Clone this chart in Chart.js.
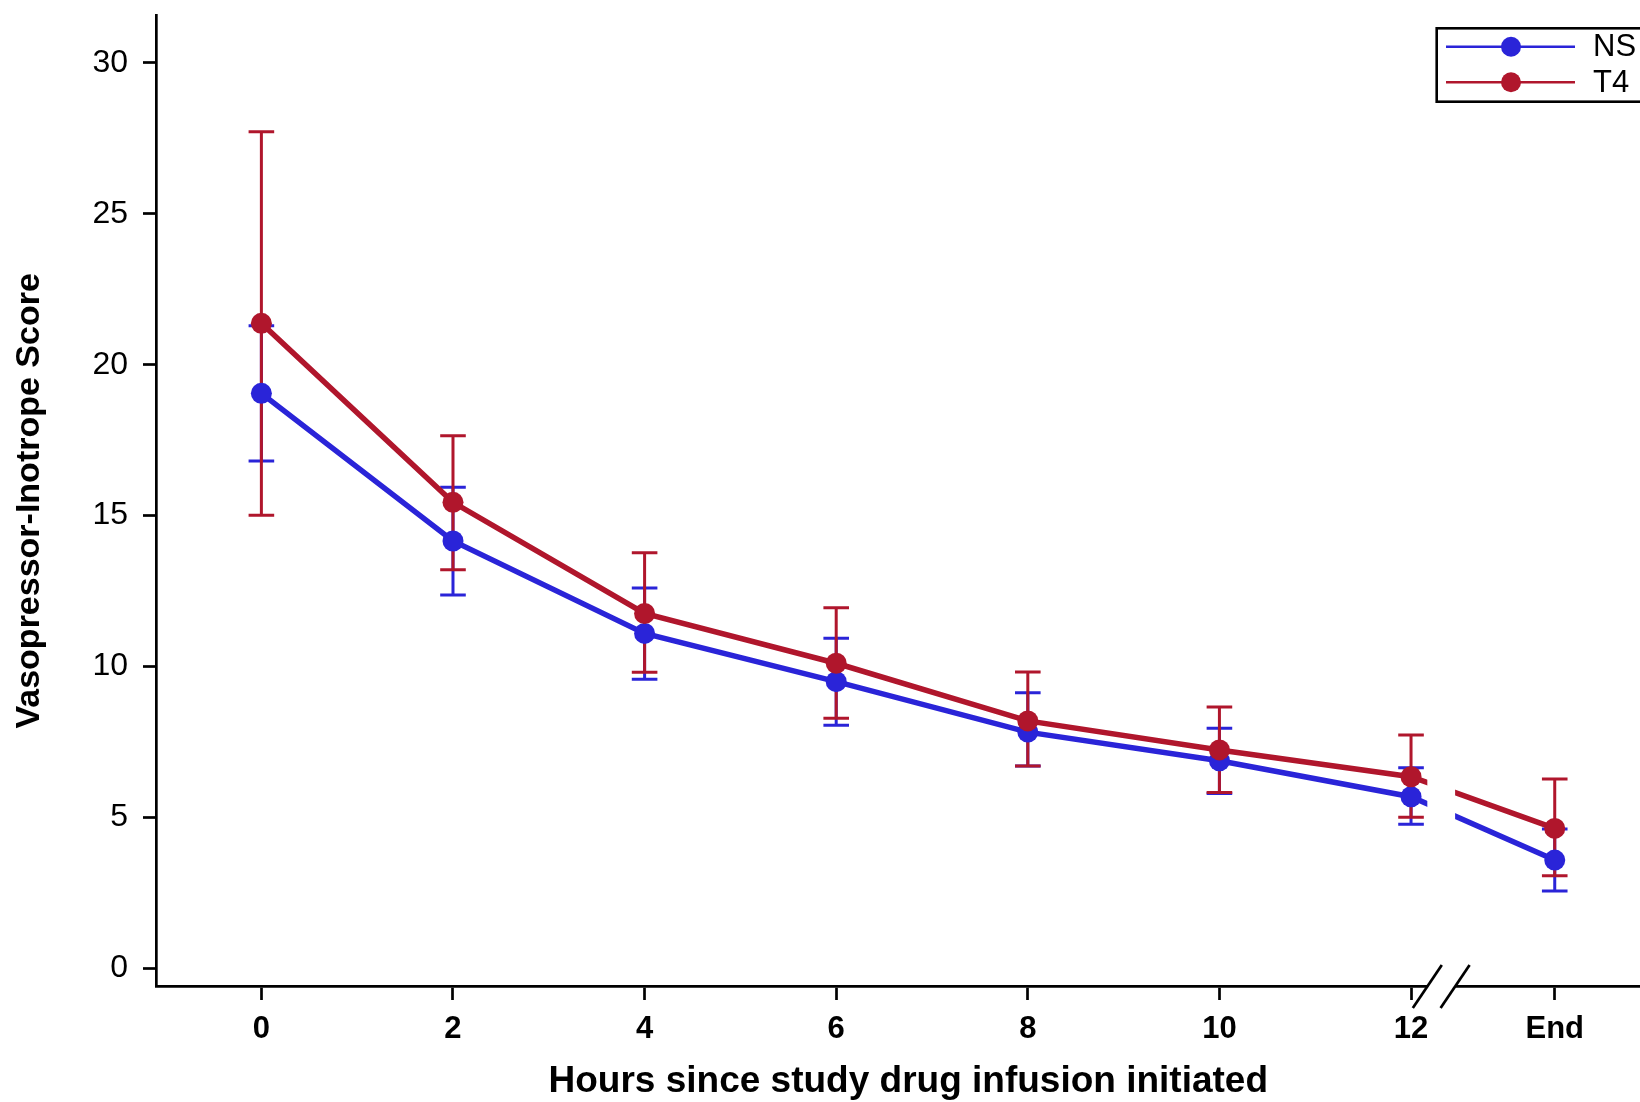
<!DOCTYPE html>
<html>
<head>
<meta charset="utf-8">
<script src="https://cdn.jsdelivr.net/npm/chart.js@4.4.1/dist/chart.umd.min.js"></script>
<style>
  body { margin: 0; background: #fff; }
  #wrap { width: 1640px; height: 1102px; }
</style>
</head>
<body>
<div id="wrap"><canvas id="myChart" width="1640" height="1102"></canvas></div>
<script>
// hours after infusion start; "End" sits a little past 12 after the axis break
const hours = [0, 2, 4, 6, 8, 10, 12, 13.5];
const hourLabels = ["0", "2", "4", "6", "8", "10", "12", "End"];
const yTicks = [0, 5, 10, 15, 20, 25, 30];

const nsMean = [19.05, 14.16, 11.1, 9.5, 7.83, 6.88, 5.69, 3.59];
const nsUpper = [21.29, 15.94, 12.6, 10.94, 9.13, 7.96, 6.65, 4.62];
const nsLower = [16.81, 12.37, 9.58, 8.06, 6.71, 5.8, 4.78, 2.57];

const t4Mean = [21.37, 15.44, 11.76, 10.11, 8.2, 7.24, 6.35, 4.64];
const t4Upper = [27.72, 17.65, 13.77, 11.95, 9.82, 8.66, 7.73, 6.28];
const t4Lower = [15.01, 13.21, 9.81, 8.29, 6.71, 5.83, 5.01, 3.07];

const blue = "#2a24d8";
const red = "#b0162c";
const font = "'Liberation Sans', Arial, Helvetica, sans-serif";
const breakAt = [12.17, 12.46];

function toPoints(vals) {
  return hours.map((h, i) => ({ x: h, y: vals[i] }));
}

// error bars go under the lines and dots
const errorBars = {
  id: "errorBars",
  beforeDatasetsDraw(chart) {
    const ctx = chart.ctx;
    const xs = chart.scales.x;
    const ys = chart.scales.y;
    const sets = [
      { lo: nsLower, hi: nsUpper, color: blue },
      { lo: t4Lower, hi: t4Upper, color: red },
    ];
    ctx.save();
    ctx.lineWidth = 3;
    sets.forEach((s) => {
      ctx.strokeStyle = s.color;
      hours.forEach((h, i) => {
        const x = xs.getPixelForValue(h);
        const yl = ys.getPixelForValue(s.lo[i]);
        const yh = ys.getPixelForValue(s.hi[i]);
        ctx.beginPath();
        ctx.moveTo(x, yl);
        ctx.lineTo(x, yh);
        ctx.moveTo(x - 12.8, yl);
        ctx.lineTo(x + 12.8, yl);
        ctx.moveTo(x - 12.8, yh);
        ctx.lineTo(x + 12.8, yh);
        ctx.stroke();
      });
    });
    ctx.restore();
  },
};

// axis break between 12 and End, plus the boxed legend at top right
const breakAndLegend = {
  id: "breakAndLegend",
  afterDraw(chart) {
    const ctx = chart.ctx;
    const xs = chart.scales.x;
    const area = chart.chartArea;
    const x1 = xs.getPixelForValue(breakAt[0]);
    const x2 = xs.getPixelForValue(breakAt[1]);
    ctx.save();
    ctx.fillStyle = "#fff";
    ctx.fillRect(x1, area.top, x2 - x1, area.bottom - area.top + 3);
    ctx.strokeStyle = "#000";
    ctx.lineWidth = 2.7;
    [x1, x2].forEach((cx) => {
      ctx.beginPath();
      ctx.moveTo(cx - 14.5, area.bottom + 22);
      ctx.lineTo(cx + 14.5, area.bottom - 21);
      ctx.stroke();
    });

    const W = chart.width;
    ctx.lineWidth = 2.6;
    ctx.strokeRect(W - 203.3, 28.3, 260, 73.4);
    const items = [
      { label: "NS", color: blue, y: 46.7 },
      { label: "T4", color: red, y: 82.3 },
    ];
    ctx.font = "31px " + font;
    ctx.textBaseline = "middle";
    ctx.textAlign = "left";
    items.forEach((it) => {
      ctx.strokeStyle = it.color;
      ctx.lineWidth = 2.5;
      ctx.beginPath();
      ctx.moveTo(W - 194, it.y);
      ctx.lineTo(W - 65, it.y);
      ctx.stroke();
      ctx.fillStyle = it.color;
      ctx.beginPath();
      ctx.arc(W - 129, it.y, 10, 0, Math.PI * 2);
      ctx.fill();
      ctx.fillStyle = "#000";
      ctx.fillText(it.label, W - 47, it.y + 1);
    });
    ctx.restore();
  },
};

const ctx = document.getElementById("myChart").getContext("2d");
const chart = new Chart(ctx, {
  type: "line",
  data: {
    datasets: [
      {
        label: "NS",
        data: toPoints(nsMean),
        borderColor: blue,
        backgroundColor: blue,
        pointBackgroundColor: blue,
        borderWidth: 5.5,
        pointRadius: 10.5,
        pointBorderWidth: 0,
        tension: 0,
        order: 1,
      },
      {
        label: "T4",
        data: toPoints(t4Mean),
        borderColor: red,
        backgroundColor: red,
        pointBackgroundColor: red,
        borderWidth: 5.5,
        pointRadius: 10.5,
        pointBorderWidth: 0,
        tension: 0,
        order: 0,
      },
    ],
  },
  options: {
    responsive: false,
    devicePixelRatio: 1,
    animation: false,
    layout: { autoPadding: false, padding: { top: 15.7, right: 0, bottom: 0, left: 0 } },
    plugins: {
      legend: { display: false },
      tooltip: { enabled: false },
    },
    scales: {
      x: {
        type: "linear",
        min: -1.1,
        max: 14.39,
        afterBuildTicks(scale) {
          scale.ticks = hours.map((h) => ({ value: h }));
        },
        afterFit(scale) {
          scale.height = 116;
          scale.paddingLeft = 0;
          scale.paddingRight = 0;
        },
        ticks: {
          color: "#000",
          font: { family: font, size: 31, weight: "bold" },
          padding: 11,
          maxRotation: 0,
          autoSkip: false,
          callback: (v) => hourLabels[hours.indexOf(v)],
        },
        grid: {
          drawOnChartArea: false,
          drawTicks: true,
          tickLength: 14,
          tickWidth: 2.7,
          tickColor: "#000",
        },
        border: { color: "#000", width: 2.7 },
        title: {
          display: true,
          text: "  Hours since study drug infusion initiated",
          color: "#000",
          font: { family: font, size: 37, weight: "bold" },
          padding: { top: 0, bottom: -2 },
        },
      },
      y: {
        type: "linear",
        min: -0.58,
        max: 31.56,
        afterBuildTicks(scale) {
          scale.ticks = yTicks.map((v) => ({ value: v }));
        },
        afterFit(scale) {
          scale.width = 156;
          scale.paddingTop = 0;
          scale.paddingBottom = 0;
        },
        ticks: {
          color: "#000",
          font: { family: font, size: 32 },
          padding: 15,
        },
        grid: {
          drawOnChartArea: false,
          drawTicks: true,
          tickLength: 13,
          tickWidth: 2.7,
          tickColor: "#000",
        },
        border: { color: "#000", width: 2.7 },
        title: {
          display: true,
          text: "Vasopressor-Inotrope Score",
          color: "#000",
          font: { family: font, size: 34, weight: "bold" },
          padding: { top: 9, bottom: 0 },
        },
      },
    },
  },
  plugins: [errorBars, breakAndLegend],
});
</script>
</body>
</html>
